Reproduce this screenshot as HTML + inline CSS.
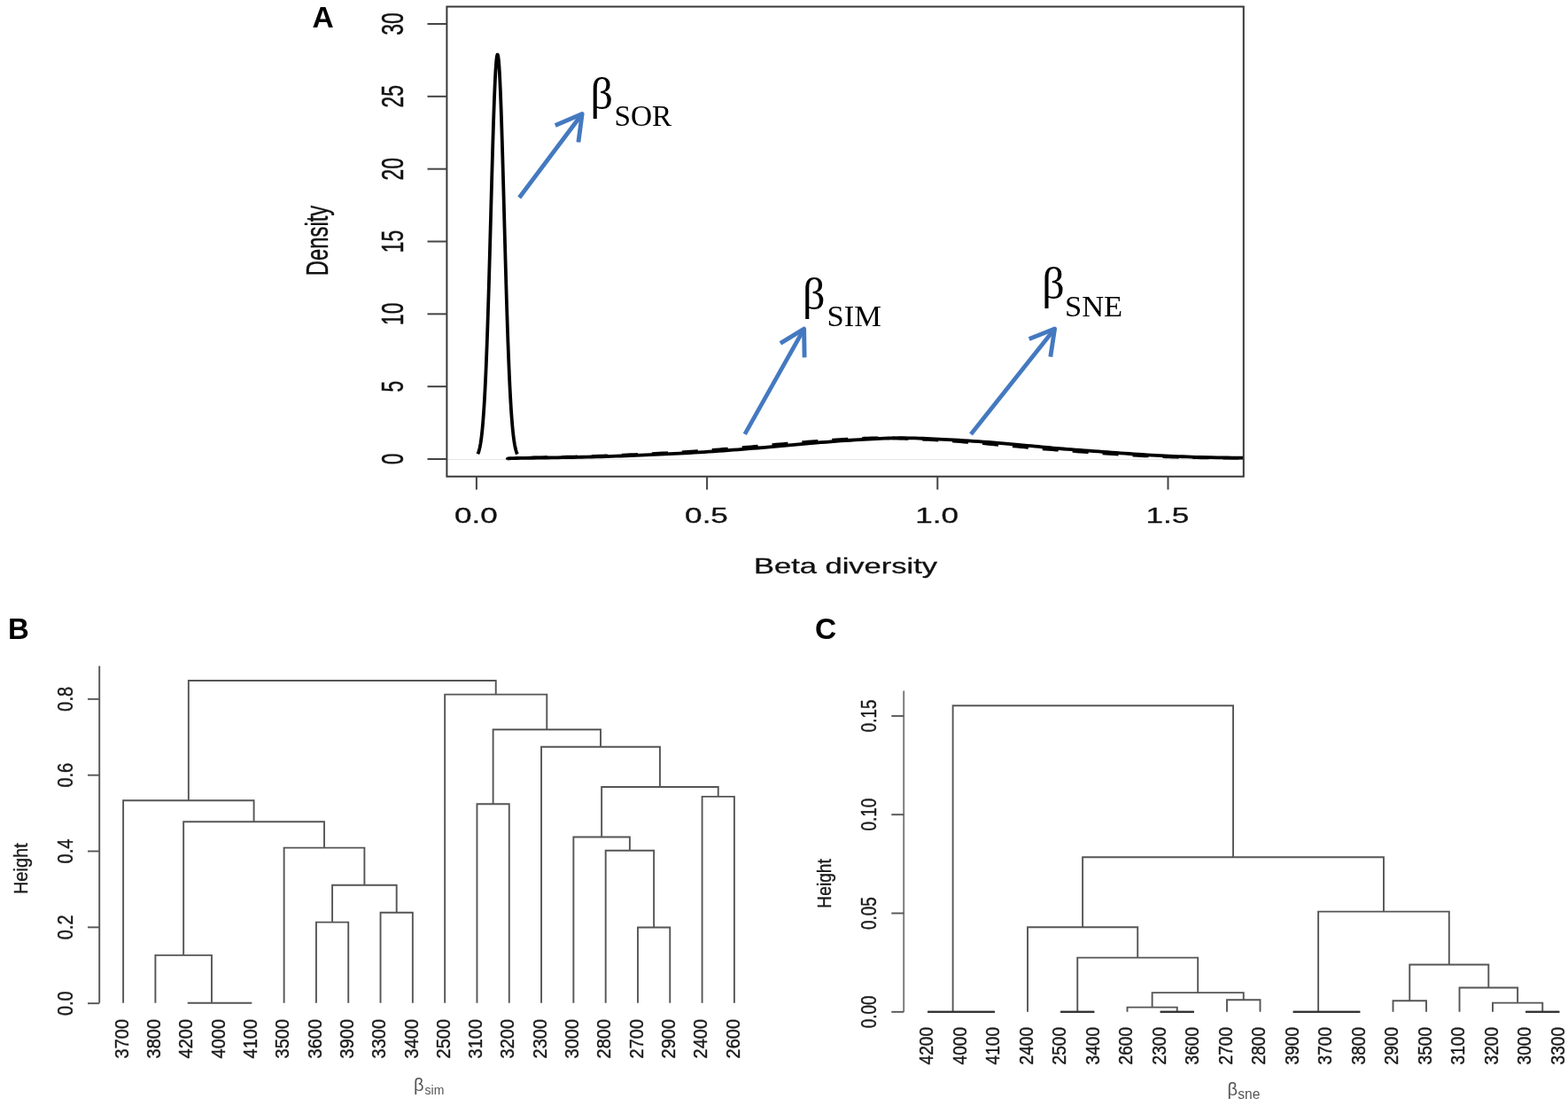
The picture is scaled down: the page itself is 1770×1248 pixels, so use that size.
<!DOCTYPE html>
<html><head><meta charset="utf-8"><title>Beta diversity figure</title>
<style>html,body{margin:0;padding:0;background:#fff;}body{width:1770px;height:1248px;overflow:hidden;}svg{display:block;}</style>
</head><body>
<svg width="1770" height="1248" viewBox="0 0 1770 1248">
<rect width="1770" height="1248" fill="#fff"/>
<g id="panelA">
<line x1="504.4" y1="518.5" x2="1403.8" y2="518.5" stroke="#e6e6e6" stroke-width="1"/>
<polyline points="539.4,512.29 539.9,511.06 540.4,509.6 540.9,507.88 541.4,505.86 541.9,503.5 542.4,500.77 542.9,497.61 543.4,493.97 543.9,489.82 544.4,485.09 544.9,479.73 545.4,473.71 545.9,466.96 546.4,459.45 546.9,451.13 547.4,441.96 547.9,431.92 548.4,420.99 548.9,409.16 549.4,396.42 549.9,382.8 550.4,368.31 550.9,353.01 551.4,336.95 551.9,320.2 552.4,302.87 552.9,285.06 553.4,266.89 553.9,248.5 554.4,230.05 554.9,211.7 555.4,193.63 555.9,176.01 556.4,159.03 556.9,142.88 557.4,127.75 557.9,113.8 558.4,101.22 558.9,90.14 559.4,80.72 559.9,73.08 560.4,67.31 560.9,63.48 561.4,61.66 561.9,61.87 562.4,64.09 562.9,68.31 563.4,74.46 563.9,82.47 564.4,92.23 564.9,103.62 565.4,116.49 565.9,130.69 566.4,146.04 566.9,162.37 567.4,179.49 567.9,197.21 568.4,215.35 568.9,233.74 569.4,252.19 569.9,270.54 570.4,288.65 570.9,306.38 571.4,323.6 571.9,340.22 572.4,356.13 572.9,371.27 573.4,385.59 573.9,399.04 574.4,411.6 574.9,423.25 575.4,434 575.9,443.86 576.4,452.86 576.9,461.01 577.4,468.37 577.9,474.97 578.4,480.86 578.9,486.08 579.4,490.69 579.9,494.74 580.4,498.27 580.9,501.35 581.4,504 581.9,506.29 582.4,508.24 582.9,509.91 583.4,511.32 583.9,512.51" fill="none" stroke="#000" stroke-width="3.8" stroke-linejoin="round" stroke-linecap="butt"/>
<polyline points="600,516.43 604,516.36 608,516.29 612,516.22 616,516.14 620,516.06 624,515.98 628,515.9 632,515.82 636,515.74 640,515.65 644,515.56 648,515.46 652,515.36 656,515.26 660,515.14 664,515.03 668,514.9 672,514.76 676,514.62 680,514.48 684,514.32 688,514.16 692,514 696,513.83 700,513.65 704,513.48 708,513.3 712,513.11 716,512.93 720,512.74 724,512.55 728,512.36 732,512.17 736,511.98 740,511.79 744,511.59 748,511.39 752,511.19 756,510.98 760,510.77 764,510.54 768,510.31 772,510.08 776,509.83 780,509.57 784,509.3 788,509.02 792,508.74 796,508.45 800,508.15 804,507.84 808,507.53 812,507.21 816,506.89 820,506.57 824,506.24 828,505.91 832,505.58 836,505.25 840,504.9 844,504.55 848,504.19 852,503.83 856,503.46 860,503.1 864,502.73 868,502.36 872,502 876,501.64 880,501.28 884,500.94 888,500.6 892,500.27 896,499.94 900,499.61 904,499.28 908,498.96 912,498.64 916,498.33 920,498.02 924,497.71 928,497.42 932,497.13 936,496.86 940,496.59 944,496.34 948,496.09 952,495.85 956,495.62 960,495.4 964,495.19 968,494.99 972,494.81 976,494.65 980,494.52 984,494.41 988,494.33 992,494.28 996,494.26 1000,494.28 1004,494.32 1008,494.39 1012,494.49 1016,494.62 1020,494.76 1024,494.92 1028,495.08 1032,495.26 1036,495.44 1040,495.63 1044,495.83 1048,496.05 1052,496.27 1056,496.5 1060,496.74 1064,496.98 1068,497.24 1072,497.5 1076,497.76 1080,498.04 1084,498.31 1088,498.6 1092,498.9 1096,499.21 1100,499.53 1104,499.86 1108,500.19 1112,500.54 1116,500.88 1120,501.24 1124,501.59 1128,501.95 1132,502.31 1136,502.67 1140,503.02 1144,503.38 1148,503.74 1152,504.11 1156,504.5 1160,504.88 1164,505.26 1168,505.64 1172,505.99 1176,506.33 1180,506.66 1184,506.98 1188,507.29 1192,507.59 1196,507.89 1200,508.19 1204,508.48 1208,508.77 1212,509.06 1216,509.35 1220,509.63 1224,509.92 1228,510.2 1232,510.49 1236,510.77 1240,511.06 1244,511.35 1248,511.64 1252,511.92 1256,512.2 1260,512.48 1264,512.74 1268,513 1272,513.25 1276,513.48 1280,513.71 1284,513.93 1288,514.14 1292,514.34 1296,514.54 1300,514.73 1304,514.91 1308,515.08 1312,515.24 1316,515.39 1320,515.54 1324,515.67 1328,515.8 1332,515.91 1336,516 1340,516.09 1344,516.17 1348,516.24 1352,516.3 1356,516.36 1360,516.42 1364,516.47 1368,516.53 1372,516.58 1376,516.63 1380,516.68 1384,516.7 1388,516.7 1392,516.7 1396,516.7 1400,516.7" fill="none" stroke="#000" stroke-width="3.6" stroke-dasharray="18 16"/>
<polyline points="573,517.8 573.2,517.76 573.18,517.71 573.07,517.65 572.99,517.58 573.06,517.51 573.41,517.43 574.15,517.35 575.42,517.26 577.32,517.18 580,517.1 583.56,517.02 587.93,516.94 592.97,516.86 598.54,516.77 604.5,516.69 610.7,516.6 616.99,516.51 623.23,516.41 629.28,516.31 635,516.2 640.5,516.09 646,515.98 651.5,515.87 657,515.76 662.5,515.64 668,515.51 673.5,515.38 679,515.23 684.5,515.07 690,514.9 695.5,514.71 701,514.51 706.5,514.3 712,514.08 717.5,513.85 723,513.61 728.5,513.37 734,513.11 739.5,512.86 745,512.6 750.5,512.34 756,512.08 761.5,511.82 767,511.55 772.5,511.27 778,510.98 783.5,510.68 789,510.37 794.5,510.05 800,509.7 805.5,509.34 811,508.95 816.5,508.56 822,508.15 827.5,507.72 833,507.29 838.5,506.85 844,506.41 849.5,505.95 855,505.5 860.5,505.04 866,504.55 871.5,504.06 877,503.56 882.5,503.05 888,502.54 893.5,502.04 899,501.55 904.5,501.06 910,500.6 915.54,500.14 921.13,499.68 926.75,499.22 932.38,498.77 938,498.33 943.58,497.9 949.09,497.48 954.51,497.09 959.82,496.73 965,496.4 970.04,496.09 974.98,495.8 979.81,495.52 984.57,495.26 989.25,495.02 993.87,494.82 998.45,494.64 1002.98,494.49 1007.5,494.37 1012,494.3 1016.41,494.26 1020.66,494.26 1024.82,494.3 1028.91,494.37 1033,494.46 1037.13,494.59 1041.34,494.73 1045.7,494.9 1050.23,495.09 1055,495.3 1060.02,495.53 1065.25,495.79 1070.65,496.08 1076.18,496.39 1081.81,496.73 1087.5,497.08 1093.2,497.44 1098.87,497.82 1104.49,498.21 1110,498.6 1115.52,499.01 1121.15,499.46 1126.84,499.93 1132.54,500.41 1138.19,500.9 1143.74,501.39 1149.15,501.87 1154.37,502.34 1159.33,502.79 1164,503.2 1168.27,503.58 1172.13,503.94 1175.68,504.27 1179.02,504.59 1182.25,504.91 1185.46,505.21 1188.74,505.52 1192.19,505.84 1195.91,506.16 1200,506.5 1204.43,506.86 1209.1,507.22 1213.97,507.59 1218.99,507.97 1224.12,508.34 1229.33,508.72 1234.56,509.1 1239.78,509.47 1244.94,509.84 1250,510.2 1255,510.56 1260,510.92 1265,511.28 1270,511.64 1275,511.99 1280,512.34 1285,512.68 1290,513 1295,513.31 1300,513.6 1304.99,513.87 1309.95,514.14 1314.91,514.39 1319.86,514.63 1324.81,514.86 1329.78,515.07 1334.78,515.27 1339.81,515.46 1344.88,515.64 1350,515.8 1355.42,515.95 1361.26,516.08 1367.35,516.19 1373.53,516.3 1379.62,516.39 1385.47,516.47 1390.9,516.54 1395.74,516.6 1399.83,516.65 1403,516.7" fill="none" stroke="#000" stroke-width="3.8" stroke-linejoin="round" stroke-linecap="butt"/>
<rect x="504.4" y="7.5" width="899.4" height="530.2" fill="none" stroke="#383838" stroke-width="2.0"/>
<line x1="482.5" y1="518" x2="504.4" y2="518" stroke="#444" stroke-width="2"/>
<text transform="translate(455.2,518) scale(1.57,1) rotate(-90)" text-anchor="middle" font-family="'Liberation Sans', Arial, Helvetica, sans-serif" font-size="22.9" fill="#111" stroke="#111" stroke-width="0.3">0</text>
<line x1="482.5" y1="436.16" x2="504.4" y2="436.16" stroke="#444" stroke-width="2"/>
<text transform="translate(455.2,436.16) scale(1.57,1) rotate(-90)" text-anchor="middle" font-family="'Liberation Sans', Arial, Helvetica, sans-serif" font-size="22.9" fill="#111" stroke="#111" stroke-width="0.3">5</text>
<line x1="482.5" y1="354.33" x2="504.4" y2="354.33" stroke="#444" stroke-width="2"/>
<text transform="translate(455.2,354.33) scale(1.57,1) rotate(-90)" text-anchor="middle" font-family="'Liberation Sans', Arial, Helvetica, sans-serif" font-size="22.9" fill="#111" stroke="#111" stroke-width="0.3">10</text>
<line x1="482.5" y1="272.5" x2="504.4" y2="272.5" stroke="#444" stroke-width="2"/>
<text transform="translate(455.2,272.5) scale(1.57,1) rotate(-90)" text-anchor="middle" font-family="'Liberation Sans', Arial, Helvetica, sans-serif" font-size="22.9" fill="#111" stroke="#111" stroke-width="0.3">15</text>
<line x1="482.5" y1="190.66" x2="504.4" y2="190.66" stroke="#444" stroke-width="2"/>
<text transform="translate(455.2,190.66) scale(1.57,1) rotate(-90)" text-anchor="middle" font-family="'Liberation Sans', Arial, Helvetica, sans-serif" font-size="22.9" fill="#111" stroke="#111" stroke-width="0.3">20</text>
<line x1="482.5" y1="108.82" x2="504.4" y2="108.82" stroke="#444" stroke-width="2"/>
<text transform="translate(455.2,108.82) scale(1.57,1) rotate(-90)" text-anchor="middle" font-family="'Liberation Sans', Arial, Helvetica, sans-serif" font-size="22.9" fill="#111" stroke="#111" stroke-width="0.3">25</text>
<line x1="482.5" y1="26.99" x2="504.4" y2="26.99" stroke="#444" stroke-width="2"/>
<text transform="translate(455.2,26.99) scale(1.57,1) rotate(-90)" text-anchor="middle" font-family="'Liberation Sans', Arial, Helvetica, sans-serif" font-size="22.9" fill="#111" stroke="#111" stroke-width="0.3">30</text>
<line x1="537.9" y1="537.7" x2="537.9" y2="552.5" stroke="#444" stroke-width="2"/>
<text transform="translate(537.3,589.8) scale(1.45,1)" text-anchor="middle" font-family="'Liberation Sans', Arial, Helvetica, sans-serif" font-size="24.2" fill="#111" stroke="#111" stroke-width="0.3">0.0</text>
<line x1="798.1" y1="537.7" x2="798.1" y2="552.5" stroke="#444" stroke-width="2"/>
<text transform="translate(797.5,589.8) scale(1.45,1)" text-anchor="middle" font-family="'Liberation Sans', Arial, Helvetica, sans-serif" font-size="24.2" fill="#111" stroke="#111" stroke-width="0.3">0.5</text>
<line x1="1058.3" y1="537.7" x2="1058.3" y2="552.5" stroke="#444" stroke-width="2"/>
<text transform="translate(1057.7,589.8) scale(1.45,1)" text-anchor="middle" font-family="'Liberation Sans', Arial, Helvetica, sans-serif" font-size="24.2" fill="#111" stroke="#111" stroke-width="0.3">1.0</text>
<line x1="1318.5" y1="537.7" x2="1318.5" y2="552.5" stroke="#444" stroke-width="2"/>
<text transform="translate(1317.9,589.8) scale(1.45,1)" text-anchor="middle" font-family="'Liberation Sans', Arial, Helvetica, sans-serif" font-size="24.2" fill="#111" stroke="#111" stroke-width="0.3">1.5</text>
<text transform="translate(954.5,647.4) scale(1.45,1)" text-anchor="middle" font-family="'Liberation Sans', Arial, Helvetica, sans-serif" font-size="23.8" fill="#111" stroke="#111" stroke-width="0.3">Beta diversity</text>
<text transform="translate(370.0,271.5) scale(1.49,1) rotate(-90)" text-anchor="middle" font-family="'Liberation Sans', Arial, Helvetica, sans-serif" font-size="23.8" fill="#111" stroke="#111" stroke-width="0.3">Density</text>
<text x="352.5" y="31" font-family="'Liberation Sans', Arial, Helvetica, sans-serif" font-weight="bold" font-size="33.5" fill="#000">A</text>
<path d="M586.2,223 L657.14,128.48" fill="none" stroke="#4479c0" stroke-width="4.8" stroke-linecap="butt"/>
<path d="M626.8,141.4 L657.14,128.48 L652.9,160.5" fill="none" stroke="#4479c0" stroke-width="4.9" stroke-linejoin="round" stroke-linecap="butt"/>
<path d="M840.8,489.9 L907.62,371.17" fill="none" stroke="#4479c0" stroke-width="4.8" stroke-linecap="butt"/>
<path d="M880.9,387.3 L907.62,371.17 L908.1,403.4" fill="none" stroke="#4479c0" stroke-width="4.9" stroke-linejoin="round" stroke-linecap="butt"/>
<path d="M1096,489.9 L1190.58,370.94" fill="none" stroke="#4479c0" stroke-width="4.8" stroke-linecap="butt"/>
<path d="M1161.7,382.5 L1190.58,370.94 L1185.8,402.6" fill="none" stroke="#4479c0" stroke-width="4.9" stroke-linejoin="round" stroke-linecap="butt"/>
<text x="666.5" y="122.5" font-family="'Liberation Serif', 'Times New Roman', serif" font-size="50" fill="#000">β</text>
<text x="693.5" y="142.4" font-family="'Liberation Serif', 'Times New Roman', serif" font-size="33.3" fill="#000">SOR</text>
<text x="906" y="349.3" font-family="'Liberation Serif', 'Times New Roman', serif" font-size="50" fill="#000">β</text>
<text x="933.5" y="368.3" font-family="'Liberation Serif', 'Times New Roman', serif" font-size="34.5" fill="#000">SIM</text>
<text x="1176.3" y="337" font-family="'Liberation Serif', 'Times New Roman', serif" font-size="50" fill="#000">β</text>
<text x="1202" y="357" font-family="'Liberation Serif', 'Times New Roman', serif" font-size="34.5" fill="#000">SNE</text>
</g>
<g id="panelB">
<path d="M248.01,1131.8V1131.8H284.32V1131.8 M211.71,1131.8V1131.8H266.17V1131.8 M175.41,1131.8V1077.9H238.94V1131.8 M356.93,1131.8V1040.6H393.24V1131.8 M429.54,1131.8V1029.8H465.85V1131.8 M375.08,1040.6V998.7H447.69V1029.8 M320.62,1131.8V956.6H411.39V998.7 M207.17,1077.9V927.2H366.01V956.6 M139.1,1131.8V903.3H286.59V927.2 M538.46,1131.8V907.2H574.76V1131.8 M719.98,1131.8V1046.5H756.28V1131.8 M683.68,1131.8V959.7H738.13V1046.5 M647.37,1131.8V944.5H710.9V959.7 M792.59,1131.8V898.9H828.89V1131.8 M679.14,944.5V888H810.74V898.9 M611.06,1131.8V842.8H744.94V888 M556.61,907.2V823.2H678V842.8 M502.15,1131.8V783.6H617.3V823.2 M212.84,903.3V768H559.73V783.6" fill="none" stroke="#555" stroke-width="1.9" stroke-linejoin="miter" stroke-linecap="butt"/>
<line x1="112.2" y1="751.5" x2="112.2" y2="1131.8" stroke="#555" stroke-width="1.9"/>
<line x1="99" y1="1132.2" x2="112.2" y2="1132.2" stroke="#555" stroke-width="1.9"/>
<text transform="translate(81.5,1132.2) scale(1.17,1) rotate(-90)" text-anchor="middle" font-family="'Liberation Sans', Arial, Helvetica, sans-serif" font-size="20.0" fill="#1a1a1a" stroke="#1a1a1a" stroke-width="0.35">0.0</text>
<line x1="99" y1="1046.36" x2="112.2" y2="1046.36" stroke="#555" stroke-width="1.9"/>
<text transform="translate(81.5,1046.36) scale(1.17,1) rotate(-90)" text-anchor="middle" font-family="'Liberation Sans', Arial, Helvetica, sans-serif" font-size="20.0" fill="#1a1a1a" stroke="#1a1a1a" stroke-width="0.35">0.2</text>
<line x1="99" y1="960.52" x2="112.2" y2="960.52" stroke="#555" stroke-width="1.9"/>
<text transform="translate(81.5,960.52) scale(1.17,1) rotate(-90)" text-anchor="middle" font-family="'Liberation Sans', Arial, Helvetica, sans-serif" font-size="20.0" fill="#1a1a1a" stroke="#1a1a1a" stroke-width="0.35">0.4</text>
<line x1="99" y1="874.68" x2="112.2" y2="874.68" stroke="#555" stroke-width="1.9"/>
<text transform="translate(81.5,874.68) scale(1.17,1) rotate(-90)" text-anchor="middle" font-family="'Liberation Sans', Arial, Helvetica, sans-serif" font-size="20.0" fill="#1a1a1a" stroke="#1a1a1a" stroke-width="0.35">0.6</text>
<line x1="99" y1="788.84" x2="112.2" y2="788.84" stroke="#555" stroke-width="1.9"/>
<text transform="translate(81.5,788.84) scale(1.17,1) rotate(-90)" text-anchor="middle" font-family="'Liberation Sans', Arial, Helvetica, sans-serif" font-size="20.0" fill="#1a1a1a" stroke="#1a1a1a" stroke-width="0.35">0.8</text>
<text transform="translate(31.0,980.2) scale(1.08,1) rotate(-90)" text-anchor="middle" font-family="'Liberation Sans', Arial, Helvetica, sans-serif" font-size="20.0" fill="#1a1a1a" stroke="#1a1a1a" stroke-width="0.35">Height</text>
<text transform="translate(144.8,1150.0) scale(1.11,1) rotate(-90)" text-anchor="end" font-family="'Liberation Sans', Arial, Helvetica, sans-serif" font-size="20.0" fill="#1a1a1a" stroke="#1a1a1a" stroke-width="0.35">3700</text>
<text transform="translate(181.1,1150.0) scale(1.11,1) rotate(-90)" text-anchor="end" font-family="'Liberation Sans', Arial, Helvetica, sans-serif" font-size="20.0" fill="#1a1a1a" stroke="#1a1a1a" stroke-width="0.35">3800</text>
<text transform="translate(217.41,1150.0) scale(1.11,1) rotate(-90)" text-anchor="end" font-family="'Liberation Sans', Arial, Helvetica, sans-serif" font-size="20.0" fill="#1a1a1a" stroke="#1a1a1a" stroke-width="0.35">4200</text>
<text transform="translate(253.71,1150.0) scale(1.11,1) rotate(-90)" text-anchor="end" font-family="'Liberation Sans', Arial, Helvetica, sans-serif" font-size="20.0" fill="#1a1a1a" stroke="#1a1a1a" stroke-width="0.35">4000</text>
<text transform="translate(290.02,1150.0) scale(1.11,1) rotate(-90)" text-anchor="end" font-family="'Liberation Sans', Arial, Helvetica, sans-serif" font-size="20.0" fill="#1a1a1a" stroke="#1a1a1a" stroke-width="0.35">4100</text>
<text transform="translate(326.32,1150.0) scale(1.11,1) rotate(-90)" text-anchor="end" font-family="'Liberation Sans', Arial, Helvetica, sans-serif" font-size="20.0" fill="#1a1a1a" stroke="#1a1a1a" stroke-width="0.35">3500</text>
<text transform="translate(362.63,1150.0) scale(1.11,1) rotate(-90)" text-anchor="end" font-family="'Liberation Sans', Arial, Helvetica, sans-serif" font-size="20.0" fill="#1a1a1a" stroke="#1a1a1a" stroke-width="0.35">3600</text>
<text transform="translate(398.94,1150.0) scale(1.11,1) rotate(-90)" text-anchor="end" font-family="'Liberation Sans', Arial, Helvetica, sans-serif" font-size="20.0" fill="#1a1a1a" stroke="#1a1a1a" stroke-width="0.35">3900</text>
<text transform="translate(435.24,1150.0) scale(1.11,1) rotate(-90)" text-anchor="end" font-family="'Liberation Sans', Arial, Helvetica, sans-serif" font-size="20.0" fill="#1a1a1a" stroke="#1a1a1a" stroke-width="0.35">3300</text>
<text transform="translate(471.55,1150.0) scale(1.11,1) rotate(-90)" text-anchor="end" font-family="'Liberation Sans', Arial, Helvetica, sans-serif" font-size="20.0" fill="#1a1a1a" stroke="#1a1a1a" stroke-width="0.35">3400</text>
<text transform="translate(507.85,1150.0) scale(1.11,1) rotate(-90)" text-anchor="end" font-family="'Liberation Sans', Arial, Helvetica, sans-serif" font-size="20.0" fill="#1a1a1a" stroke="#1a1a1a" stroke-width="0.35">2500</text>
<text transform="translate(544.16,1150.0) scale(1.11,1) rotate(-90)" text-anchor="end" font-family="'Liberation Sans', Arial, Helvetica, sans-serif" font-size="20.0" fill="#1a1a1a" stroke="#1a1a1a" stroke-width="0.35">3100</text>
<text transform="translate(580.46,1150.0) scale(1.11,1) rotate(-90)" text-anchor="end" font-family="'Liberation Sans', Arial, Helvetica, sans-serif" font-size="20.0" fill="#1a1a1a" stroke="#1a1a1a" stroke-width="0.35">3200</text>
<text transform="translate(616.76,1150.0) scale(1.11,1) rotate(-90)" text-anchor="end" font-family="'Liberation Sans', Arial, Helvetica, sans-serif" font-size="20.0" fill="#1a1a1a" stroke="#1a1a1a" stroke-width="0.35">2300</text>
<text transform="translate(653.07,1150.0) scale(1.11,1) rotate(-90)" text-anchor="end" font-family="'Liberation Sans', Arial, Helvetica, sans-serif" font-size="20.0" fill="#1a1a1a" stroke="#1a1a1a" stroke-width="0.35">3000</text>
<text transform="translate(689.38,1150.0) scale(1.11,1) rotate(-90)" text-anchor="end" font-family="'Liberation Sans', Arial, Helvetica, sans-serif" font-size="20.0" fill="#1a1a1a" stroke="#1a1a1a" stroke-width="0.35">2800</text>
<text transform="translate(725.68,1150.0) scale(1.11,1) rotate(-90)" text-anchor="end" font-family="'Liberation Sans', Arial, Helvetica, sans-serif" font-size="20.0" fill="#1a1a1a" stroke="#1a1a1a" stroke-width="0.35">2700</text>
<text transform="translate(761.99,1150.0) scale(1.11,1) rotate(-90)" text-anchor="end" font-family="'Liberation Sans', Arial, Helvetica, sans-serif" font-size="20.0" fill="#1a1a1a" stroke="#1a1a1a" stroke-width="0.35">2900</text>
<text transform="translate(798.29,1150.0) scale(1.11,1) rotate(-90)" text-anchor="end" font-family="'Liberation Sans', Arial, Helvetica, sans-serif" font-size="20.0" fill="#1a1a1a" stroke="#1a1a1a" stroke-width="0.35">2400</text>
<text transform="translate(834.6,1150.0) scale(1.11,1) rotate(-90)" text-anchor="end" font-family="'Liberation Sans', Arial, Helvetica, sans-serif" font-size="20.0" fill="#1a1a1a" stroke="#1a1a1a" stroke-width="0.35">2600</text>
<text x="467" y="1230.5" font-family="'Liberation Sans', Arial, Helvetica, sans-serif" font-size="20" fill="#555">β<tspan font-size="14" dx="1" dy="4">sim</tspan></text>
<text x="9.0" y="721.3" font-family="'Liberation Sans', Arial, Helvetica, sans-serif" font-weight="bold" font-size="33" fill="#000">B</text>
</g>
<g id="panelC">
<path d="M1085,1141.8V1141.8H1122.5V1141.8 M1047.5,1141.8V1141.8H1103.75V1141.8 M1197.5,1141.8V1141.8H1235V1141.8 M1310,1141.8V1141.8H1347.5V1141.8 M1272.5,1141.8V1136.6H1328.75V1141.8 M1385,1141.8V1128.2H1422.5V1141.8 M1300.62,1136.6V1120.1H1403.75V1128.2 M1216.25,1141.8V1080.6H1352.19V1120.1 M1160,1141.8V1046.2H1284.22V1080.6 M1497.5,1141.8V1141.8H1535V1141.8 M1460,1141.8V1141.8H1516.25V1141.8 M1572.5,1141.8V1129.2H1610V1141.8 M1722.5,1141.8V1141.8H1760V1141.8 M1685,1141.8V1131.6H1741.25V1141.8 M1647.5,1141.8V1114.5H1713.12V1131.6 M1591.25,1129.2V1088.5H1680.31V1114.5 M1488.12,1141.8V1028.6H1635.78V1088.5 M1222.11,1046.2V967.2H1561.95V1028.6 M1075.62,1141.8V796.3H1392.03V967.2" fill="none" stroke="#555" stroke-width="1.9" stroke-linejoin="miter" stroke-linecap="butt"/>
<path d="M1084.5,1141.8H1123 M1047,1141.8H1104.25 M1197,1141.8H1235.5 M1309.5,1141.8H1348 M1497,1141.8H1535.5 M1459.5,1141.8H1516.75 M1722,1141.8H1760.5" fill="none" stroke="#2e2e2e" stroke-width="2.0"/>
<line x1="1020.2" y1="779.4" x2="1020.2" y2="1141.8" stroke="#777" stroke-width="1.9"/>
<line x1="1006.3" y1="1141.8" x2="1020.2" y2="1141.8" stroke="#555" stroke-width="1.9"/>
<text transform="translate(988.7,1141.8) scale(1.23,1) rotate(-90)" text-anchor="middle" font-family="'Liberation Sans', Arial, Helvetica, sans-serif" font-size="18.9" fill="#1a1a1a" stroke="#1a1a1a" stroke-width="0.35">0.00</text>
<line x1="1006.3" y1="1030.5" x2="1020.2" y2="1030.5" stroke="#555" stroke-width="1.9"/>
<text transform="translate(988.7,1030.5) scale(1.23,1) rotate(-90)" text-anchor="middle" font-family="'Liberation Sans', Arial, Helvetica, sans-serif" font-size="18.9" fill="#1a1a1a" stroke="#1a1a1a" stroke-width="0.35">0.05</text>
<line x1="1006.3" y1="919.2" x2="1020.2" y2="919.2" stroke="#555" stroke-width="1.9"/>
<text transform="translate(988.7,919.2) scale(1.23,1) rotate(-90)" text-anchor="middle" font-family="'Liberation Sans', Arial, Helvetica, sans-serif" font-size="18.9" fill="#1a1a1a" stroke="#1a1a1a" stroke-width="0.35">0.10</text>
<line x1="1006.3" y1="807.9" x2="1020.2" y2="807.9" stroke="#555" stroke-width="1.9"/>
<text transform="translate(988.7,807.9) scale(1.23,1) rotate(-90)" text-anchor="middle" font-family="'Liberation Sans', Arial, Helvetica, sans-serif" font-size="18.9" fill="#1a1a1a" stroke="#1a1a1a" stroke-width="0.35">0.15</text>
<text transform="translate(937.5,996.9) scale(1.19,1) rotate(-90)" text-anchor="middle" font-family="'Liberation Sans', Arial, Helvetica, sans-serif" font-size="19.2" fill="#1a1a1a" stroke="#1a1a1a" stroke-width="0.35">Height</text>
<text transform="translate(1053.4,1158.8) scale(1.18,1) rotate(-90)" text-anchor="end" font-family="'Liberation Sans', Arial, Helvetica, sans-serif" font-size="19.2" fill="#1a1a1a" stroke="#1a1a1a" stroke-width="0.35">4200</text>
<text transform="translate(1090.9,1158.8) scale(1.18,1) rotate(-90)" text-anchor="end" font-family="'Liberation Sans', Arial, Helvetica, sans-serif" font-size="19.2" fill="#1a1a1a" stroke="#1a1a1a" stroke-width="0.35">4000</text>
<text transform="translate(1128.4,1158.8) scale(1.18,1) rotate(-90)" text-anchor="end" font-family="'Liberation Sans', Arial, Helvetica, sans-serif" font-size="19.2" fill="#1a1a1a" stroke="#1a1a1a" stroke-width="0.35">4100</text>
<text transform="translate(1165.9,1158.8) scale(1.18,1) rotate(-90)" text-anchor="end" font-family="'Liberation Sans', Arial, Helvetica, sans-serif" font-size="19.2" fill="#1a1a1a" stroke="#1a1a1a" stroke-width="0.35">2400</text>
<text transform="translate(1203.4,1158.8) scale(1.18,1) rotate(-90)" text-anchor="end" font-family="'Liberation Sans', Arial, Helvetica, sans-serif" font-size="19.2" fill="#1a1a1a" stroke="#1a1a1a" stroke-width="0.35">2500</text>
<text transform="translate(1240.9,1158.8) scale(1.18,1) rotate(-90)" text-anchor="end" font-family="'Liberation Sans', Arial, Helvetica, sans-serif" font-size="19.2" fill="#1a1a1a" stroke="#1a1a1a" stroke-width="0.35">3400</text>
<text transform="translate(1278.4,1158.8) scale(1.18,1) rotate(-90)" text-anchor="end" font-family="'Liberation Sans', Arial, Helvetica, sans-serif" font-size="19.2" fill="#1a1a1a" stroke="#1a1a1a" stroke-width="0.35">2600</text>
<text transform="translate(1315.9,1158.8) scale(1.18,1) rotate(-90)" text-anchor="end" font-family="'Liberation Sans', Arial, Helvetica, sans-serif" font-size="19.2" fill="#1a1a1a" stroke="#1a1a1a" stroke-width="0.35">2300</text>
<text transform="translate(1353.4,1158.8) scale(1.18,1) rotate(-90)" text-anchor="end" font-family="'Liberation Sans', Arial, Helvetica, sans-serif" font-size="19.2" fill="#1a1a1a" stroke="#1a1a1a" stroke-width="0.35">3600</text>
<text transform="translate(1390.9,1158.8) scale(1.18,1) rotate(-90)" text-anchor="end" font-family="'Liberation Sans', Arial, Helvetica, sans-serif" font-size="19.2" fill="#1a1a1a" stroke="#1a1a1a" stroke-width="0.35">2700</text>
<text transform="translate(1428.4,1158.8) scale(1.18,1) rotate(-90)" text-anchor="end" font-family="'Liberation Sans', Arial, Helvetica, sans-serif" font-size="19.2" fill="#1a1a1a" stroke="#1a1a1a" stroke-width="0.35">2800</text>
<text transform="translate(1465.9,1158.8) scale(1.18,1) rotate(-90)" text-anchor="end" font-family="'Liberation Sans', Arial, Helvetica, sans-serif" font-size="19.2" fill="#1a1a1a" stroke="#1a1a1a" stroke-width="0.35">3900</text>
<text transform="translate(1503.4,1158.8) scale(1.18,1) rotate(-90)" text-anchor="end" font-family="'Liberation Sans', Arial, Helvetica, sans-serif" font-size="19.2" fill="#1a1a1a" stroke="#1a1a1a" stroke-width="0.35">3700</text>
<text transform="translate(1540.9,1158.8) scale(1.18,1) rotate(-90)" text-anchor="end" font-family="'Liberation Sans', Arial, Helvetica, sans-serif" font-size="19.2" fill="#1a1a1a" stroke="#1a1a1a" stroke-width="0.35">3800</text>
<text transform="translate(1578.4,1158.8) scale(1.18,1) rotate(-90)" text-anchor="end" font-family="'Liberation Sans', Arial, Helvetica, sans-serif" font-size="19.2" fill="#1a1a1a" stroke="#1a1a1a" stroke-width="0.35">2900</text>
<text transform="translate(1615.9,1158.8) scale(1.18,1) rotate(-90)" text-anchor="end" font-family="'Liberation Sans', Arial, Helvetica, sans-serif" font-size="19.2" fill="#1a1a1a" stroke="#1a1a1a" stroke-width="0.35">3500</text>
<text transform="translate(1653.4,1158.8) scale(1.18,1) rotate(-90)" text-anchor="end" font-family="'Liberation Sans', Arial, Helvetica, sans-serif" font-size="19.2" fill="#1a1a1a" stroke="#1a1a1a" stroke-width="0.35">3100</text>
<text transform="translate(1690.9,1158.8) scale(1.18,1) rotate(-90)" text-anchor="end" font-family="'Liberation Sans', Arial, Helvetica, sans-serif" font-size="19.2" fill="#1a1a1a" stroke="#1a1a1a" stroke-width="0.35">3200</text>
<text transform="translate(1728.4,1158.8) scale(1.18,1) rotate(-90)" text-anchor="end" font-family="'Liberation Sans', Arial, Helvetica, sans-serif" font-size="19.2" fill="#1a1a1a" stroke="#1a1a1a" stroke-width="0.35">3000</text>
<text transform="translate(1765.9,1158.8) scale(1.18,1) rotate(-90)" text-anchor="end" font-family="'Liberation Sans', Arial, Helvetica, sans-serif" font-size="19.2" fill="#1a1a1a" stroke="#1a1a1a" stroke-width="0.35">3300</text>
<text x="1385.5" y="1236.3" font-family="'Liberation Sans', Arial, Helvetica, sans-serif" font-size="20" fill="#555">β<tspan font-size="15.6" dx="0.3" dy="3.4">sne</tspan></text>
<text x="920.1" y="721.4" font-family="'Liberation Sans', Arial, Helvetica, sans-serif" font-weight="bold" font-size="33.5" fill="#000">C</text>
</g>
</svg>
</body></html>
